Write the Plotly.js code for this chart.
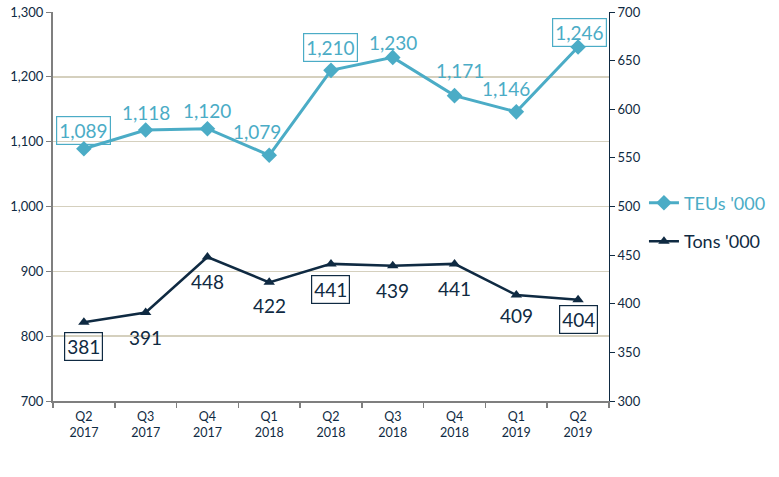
<!DOCTYPE html>
<html>
<head>
<meta charset="utf-8">
<script src="https://cdn.plot.ly/plotly-3.0.1.min.js"></script>
<style>html,body{margin:0;padding:0;background:#fff;}#chart{width:779px;height:477px;}</style>
</head>
<body>
<div id="chart"></div>
<script>
const quarters = ["Q2<br>2017","Q3<br>2017","Q4<br>2017","Q1<br>2018","Q2<br>2018","Q3<br>2018","Q4<br>2018","Q1<br>2019","Q2<br>2019"];
const teus = [1089, 1118, 1120, 1079, 1210, 1230, 1171, 1146, 1246];
const tons = [381, 391, 448, 422, 441, 439, 441, 409, 404];
const teuName = "TEUs '000";
const tonName = "Tons '000";
const boxedIdx = [0, 4, 8];

const TEAL = "#4BACC6";
const NAVY = "#0F2A42";
const FONT = "Lato, 'Open Sans', sans-serif";

// label offsets (px) – styling only
const teuShift = [[0,18],[0,18],[0,18],[-12,24],[0,23],[0,15],[5,25],[-10,23],[1,15]];
const tonShift = [[0,-24],[0,-25],[0,-24],[0,-23],[0,-26],[0,-25],[0,-25],[0,-20],[0,-20]];

const fmt = v => v.toLocaleString("en-US");

const annotations = [];
teus.forEach((v, i) => {
  const boxed = boxedIdx.includes(i);
  annotations.push({
    x: quarters[i], y: v, xref: "x", yref: "y", showarrow: false,
    text: fmt(v), font: {family: FONT, size: 19, color: TEAL},
    xshift: teuShift[i][0], yshift: teuShift[i][1],
    bordercolor: boxed ? TEAL : "rgba(0,0,0,0)", borderwidth: boxed ? 1.2 : 0, borderpad: 2
  });
});
tons.forEach((v, i) => {
  const boxed = boxedIdx.includes(i);
  annotations.push({
    x: quarters[i], y: v, xref: "x", yref: "y2", showarrow: false,
    text: fmt(v), font: {family: FONT, size: 19, color: NAVY},
    xshift: tonShift[i][0], yshift: tonShift[i][1],
    bordercolor: boxed ? NAVY : "rgba(0,0,0,0)", borderwidth: boxed ? 1.2 : 0, borderpad: 2
  });
});

const data = [
  {
    x: quarters, y: teus, type: "scatter", mode: "lines+markers",
    name: "<span style='color:" + TEAL + "'>" + teuName + "</span>",
    legendgroup: "a",
    line: {color: TEAL, width: 3},
    marker: {symbol: "diamond", size: 12, color: TEAL},
    yaxis: "y", hoverinfo: "skip"
  },
  {
    x: quarters, y: tons, type: "scatter", mode: "lines+markers",
    name: "<span style='color:" + NAVY + "'>" + tonName + "</span>",
    legendgroup: "b",
    line: {color: NAVY, width: 2.5},
    marker: {symbol: "triangle-up", size: 10, color: NAVY},
    yaxis: "y2", hoverinfo: "skip"
  }
];

const layout = {
  width: 779, height: 477,
  margin: {l: 53, r: 0, t: 12, b: 76},
  paper_bgcolor: "#fff", plot_bgcolor: "#fff",
  font: {family: FONT, color: NAVY},
  showlegend: true,
  legend: {x: 0.814, y: 0.46, xanchor: "left", yanchor: "middle",
           font: {family: FONT, size: 18, color: NAVY},
           traceorder: "grouped", tracegroupgap: 12, itemwidth: 30,
           bgcolor: "rgba(0,0,0,0)"},
  xaxis: {
    type: "category", tickson: "boundaries", ticks: "outside", ticklen: 5,
    tickcolor: "#7f7f7f", tickwidth: 1.5, domain: [0, 0.7658],
    showline: true, linecolor: "#7f7f7f", linewidth: 2,
    showgrid: false, tickfont: {family: FONT, size: 12.5, color: NAVY},
    ticklabelstandoff: 3,
    range: [-0.5, 8.5], fixedrange: true
  },
  yaxis: {
    range: [700, 1300], dtick: 100, tickformat: ",d",
    showline: true, linecolor: "#7f7f7f", linewidth: 2,
    ticks: "outside", ticklen: 5, tickcolor: "#7f7f7f",
    showgrid: true, gridcolor: "#D5D0BE", gridwidth: 1.5,
    zeroline: false, tickfont: {family: FONT, size: 13, color: NAVY}
  },
  yaxis2: {
    range: [300, 700], dtick: 50, overlaying: "y", side: "right",
    anchor: "x",
    showline: true, linecolor: NAVY, linewidth: 1,
    ticks: "outside", ticklen: 5, tickcolor: NAVY,
    showgrid: false, zeroline: false,
    tickfont: {family: FONT, size: 13, color: NAVY}
  },
  annotations: annotations
};

Plotly.newPlot("chart", data, layout, {displayModeBar: false, staticPlot: true});
</script>
</body>
</html>
